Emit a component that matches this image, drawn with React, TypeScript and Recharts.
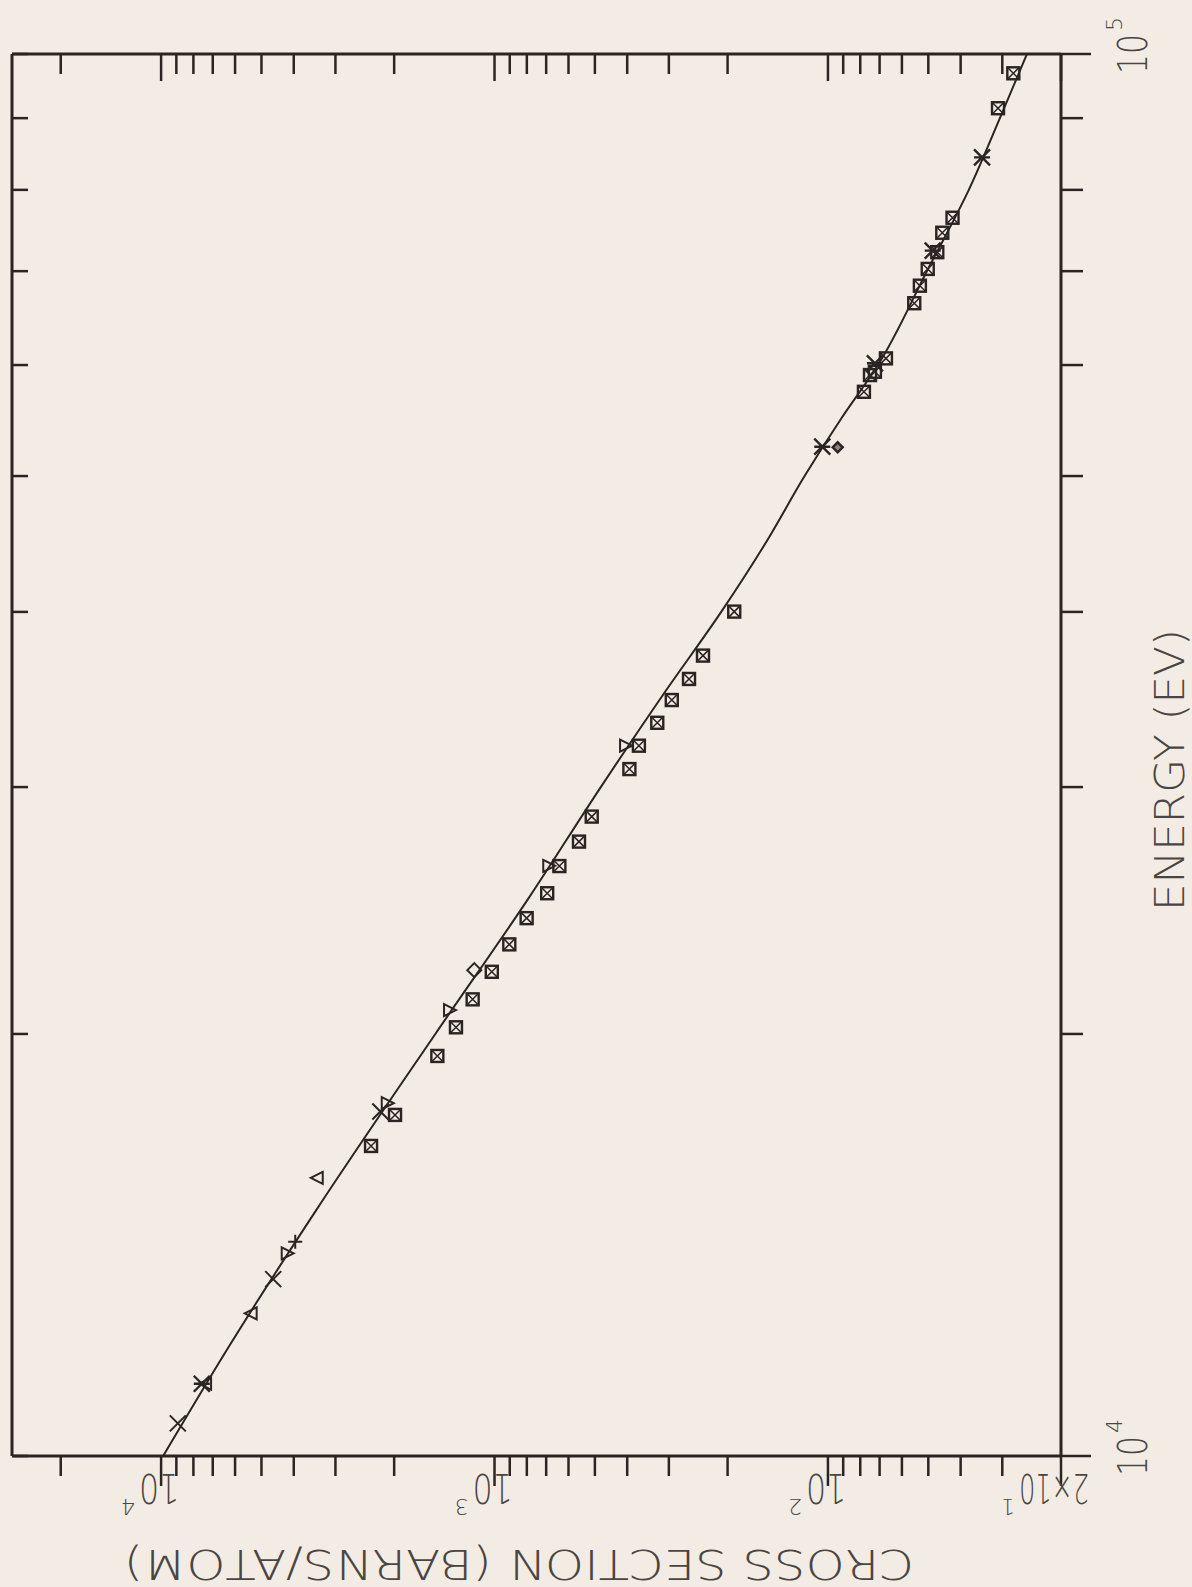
import React from 'react'
import { ScatterChart, Scatter, XAxis, YAxis } from 'recharts'

// energy axis (eV)
const energyTicks = [10000, 20000, 30000, 40000, 50000, 60000, 70000, 80000, 90000, 100000]
const energyLabelValues = [10000, 100000]
const energyLabelExp = ['4', '5']

// cross section axis (barns/atom)
const sigmaTicks = [
  20, 30, 40, 50, 60, 70, 80, 90, 100, 200, 300, 400, 500, 600, 700, 800, 900,
  1000, 2000, 3000, 4000, 5000, 6000, 7000, 8000, 9000, 10000, 20000,
]
const sigmaLabelValues = [10000, 1000, 100, 20]
const sigmaLabelBase = ['10', '10', '10', '2×10']
const sigmaLabelExp = ['4', '3', '2', '1']

// solid curve
const curveEnergy = [10000, 12000, 15000, 20000, 25000, 30000, 35000, 40000, 45000, 50000, 55000, 60000, 70000, 80000, 90000, 100000]
const curveSigma = [9860, 6220, 3410, 1505, 790, 480, 310, 209, 152, 117.5, 91, 70.8, 50.5, 37.8, 30.5, 25.3]

// crossed squares
const sqEnergy = [
  16640, 17510, 19290, 20220, 21170, 22150, 23170, 24190, 25200, 26350, 27430, 28580,
  30900, 32110, 33340, 34610, 35830, 37230, 40020, 57420, 59020, 59340, 60660, 66410,
  68350, 70260, 72220, 74560, 76420, 91480, 96880,
]
const sqSigma = [
  2346, 1988, 1484, 1305, 1163, 1019, 903, 801, 695, 639, 558, 511,
  394, 369, 325, 294, 261, 237, 191, 78.0, 74.8, 72.3, 67.0, 55.1,
  53.0, 50.2, 47.0, 45.4, 42.3, 30.9, 27.8,
]

// x crosses
const crossEnergy = [10550, 13370, 17610]
const crossSigma = [8910, 4610, 2200]

// asterisks
const starEnergy = [11260, 52470, 60170, 72400, 84380]
const starSigma = [7550, 104, 72.3, 48.5, 34.5]

// plus
const plusEnergy = [14220]
const plusSigma = [3960]

// triangles up
const triUpEnergy = [11260, 12640, 15790]
const triUpSigma = [7330, 5350, 3390]

// triangles down
const triDownEnergy = [13950, 17850, 20800, 26360, 32110]
const triDownSigma = [4200, 2105, 1369, 690, 406]

// diamond
const diamondEnergy = [22210]
const diamondSigma = [1150]

// small filled marker
const dotEnergy = [52420]
const dotSigma = [93.5]

const INK = '#2a2522'
const TEXT = '#4a4542'
const FONT = "'DejaVu Sans', 'Liberation Sans', sans-serif"

const pts = (e: number[], s: number[]) => e.map((v, i) => ({ e: v, s: s[i] }))

function SquareX({ cx, cy }: any) {
  const r = 6
  return (
    <g stroke={INK} fill="none">
      <rect x={cx - r} y={cy - r} width={2 * r} height={2 * r} strokeWidth={2.4} />
      <path d={`M${cx - r} ${cy - r}L${cx + r} ${cy + r}M${cx + r} ${cy - r}L${cx - r} ${cy + r}`} strokeWidth={1.5} />
    </g>
  )
}

function Cross({ cx, cy }: any) {
  const r = 8
  return <path d={`M${cx - r} ${cy - r}L${cx + r} ${cy + r}M${cx + r} ${cy - r}L${cx - r} ${cy + r}`} stroke={INK} strokeWidth={2} />
}

function Star({ cx, cy }: any) {
  const r = 8
  return (
    <path
      d={`M${cx - r} ${cy - r}L${cx + r} ${cy + r}M${cx + r} ${cy - r}L${cx - r} ${cy + r}M${cx} ${cy - r}L${cx} ${cy + r}`}
      stroke={INK}
      strokeWidth={2.4}
    />
  )
}

function Plus({ cx, cy }: any) {
  const r = 7
  return <path d={`M${cx - r} ${cy}L${cx + r} ${cy}M${cx} ${cy - r}L${cx} ${cy + r}`} stroke={INK} strokeWidth={2} />
}

function TriUp({ cx, cy }: any) {
  return <path d={`M${cx} ${cy - 7}L${cx + 6} ${cy + 5}L${cx - 6} ${cy + 5}Z`} stroke={INK} strokeWidth={2} fill="none" />
}

function TriDown({ cx, cy }: any) {
  return <path d={`M${cx} ${cy + 7}L${cx + 6} ${cy - 5}L${cx - 6} ${cy - 5}Z`} stroke={INK} strokeWidth={2} fill="none" />
}

function Diamond({ cx, cy }: any) {
  const r = 7
  return <path d={`M${cx} ${cy - r}L${cx + r} ${cy}L${cx} ${cy + r}L${cx - r} ${cy}Z`} stroke={INK} strokeWidth={2} fill="none" />
}

function Dot({ cx, cy }: any) {
  const r = 5
  return <path d={`M${cx} ${cy - r}L${cx + r} ${cy}L${cx} ${cy + r}L${cx - r} ${cy}Z`} stroke={INK} strokeWidth={2.5} fill="#8a8481" />
}

// energy axis, outward ticks + labels
function EnergyTick({ x, y, payload }: any) {
  const idx = energyLabelValues.indexOf(payload.value)
  const major = idx >= 0
  const len = major ? 30 : 22
  return (
    <g>
      <line x1={x} y1={y} x2={x} y2={y + len} stroke={INK} strokeWidth={2.5} />
      {major && (
        <g fill={TEXT} fontFamily={FONT} fontWeight={300}>
          <text x={x} y={1147} fontSize={40} textAnchor="middle" textLength={40} lengthAdjust="spacingAndGlyphs">10</text>
          <text x={x + 23} y={1122} fontSize={22} textAnchor="start">{energyLabelExp[idx]}</text>
        </g>
      )}
    </g>
  )
}

function EnergyTickInner({ x, y }: any) {
  return <line x1={x} y1={y} x2={x} y2={y + 16} stroke={INK} strokeWidth={2.5} />
}

function SigmaTick({ x, y, payload }: any) {
  const idx = sigmaLabelValues.indexOf(payload.value)
  const major = idx >= 0
  const len = major ? 30 : 20
  const base = major ? sigmaLabelBase[idx] : ''
  const wide = base.length > 2
  return (
    <g>
      <line x1={x} y1={y} x2={x - len} y2={y} stroke={INK} strokeWidth={2.5} />
      {major && (
        <g transform={`translate(${x - 18}, ${y}) rotate(-90)`} fill={TEXT} fontFamily={FONT} fontWeight={300}>
          <text
            x={wide ? 42 : 2}
            y={0}
            fontSize={40}
            textAnchor={wide ? 'end' : 'middle'}
            textLength={wide ? 70 : 40}
            lengthAdjust="spacingAndGlyphs"
          >
            {base}
          </text>
          <text x={wide ? 46 : 26} y={-25} fontSize={22} textAnchor="start">{sigmaLabelExp[idx]}</text>
        </g>
      )}
    </g>
  )
}

function SigmaTickInner({ x, y, payload }: any) {
  const major = sigmaLabelValues.indexOf(payload.value) >= 0
  const len = major ? 27 : 20
  return <line x1={x} y1={y} x2={x - len} y2={y} stroke={INK} strokeWidth={2.5} />
}

const W = 1587
const H = 1192

export default function App() {
  const axisLine = { stroke: INK, strokeWidth: 3 }
  return (
    <div style={{ position: 'absolute', left: 0, top: 0, width: 1192, height: 1587, background: '#f2ece5', overflow: 'hidden' }}>
      <div
        style={{
          position: 'absolute',
          left: 0,
          top: 0,
          width: W,
          height: H,
          transform: `translate(0px, ${W}px) rotate(-90deg)`,
          transformOrigin: '0 0',
        }}
      >
        <ScatterChart width={W} height={H} margin={{ top: 12, right: 54, bottom: 130, left: 130 }}>
          <XAxis
            xAxisId="b"
            dataKey="e"
            type="number"
            scale="log"
            domain={[10000, 100000]}
            allowDataOverflow
            ticks={energyTicks}
            interval={0}
            height={1}
            tickSize={0}
            tickMargin={0}
            tickLine={false}
            axisLine={axisLine}
            tick={EnergyTick}
          />
          <XAxis
            xAxisId="t"
            orientation="top"
            mirror
            dataKey="e"
            type="number"
            scale="log"
            domain={[10000, 100000]}
            allowDataOverflow
            ticks={energyTicks}
            interval={0}
            height={1}
            tickSize={0}
            tickMargin={0}
            tickLine={false}
            axisLine={axisLine}
            tick={EnergyTickInner}
          />
          <YAxis
            yAxisId="l"
            dataKey="s"
            type="number"
            scale="log"
            domain={[20, 28000]}
            allowDataOverflow
            ticks={sigmaTicks}
            interval={0}
            width={1}
            tickSize={0}
            tickMargin={0}
            tickLine={false}
            axisLine={axisLine}
            tick={SigmaTick}
          />
          <YAxis
            yAxisId="r"
            orientation="right"
            mirror
            dataKey="s"
            type="number"
            scale="log"
            domain={[20, 28000]}
            allowDataOverflow
            ticks={sigmaTicks}
            interval={0}
            width={1}
            tickSize={0}
            tickMargin={0}
            tickLine={false}
            axisLine={axisLine}
            tick={SigmaTickInner}
          />
          <Scatter
            xAxisId="b"
            yAxisId="l"
            data={pts(curveEnergy, curveSigma)}
            line={{ stroke: INK, strokeWidth: 2 }}
            lineJointType="monotoneX"
            shape={() => <g />}
            isAnimationActive={false}
          />
          <Scatter xAxisId="b" yAxisId="l" data={pts(sqEnergy, sqSigma)} shape={SquareX} isAnimationActive={false} />
          <Scatter xAxisId="b" yAxisId="l" data={pts(crossEnergy, crossSigma)} shape={Cross} isAnimationActive={false} />
          <Scatter xAxisId="b" yAxisId="l" data={pts(starEnergy, starSigma)} shape={Star} isAnimationActive={false} />
          <Scatter xAxisId="b" yAxisId="l" data={pts(plusEnergy, plusSigma)} shape={Plus} isAnimationActive={false} />
          <Scatter xAxisId="b" yAxisId="l" data={pts(triUpEnergy, triUpSigma)} shape={TriUp} isAnimationActive={false} />
          <Scatter xAxisId="b" yAxisId="l" data={pts(triDownEnergy, triDownSigma)} shape={TriDown} isAnimationActive={false} />
          <Scatter xAxisId="b" yAxisId="l" data={pts(diamondEnergy, diamondSigma)} shape={Diamond} isAnimationActive={false} />
          <Scatter xAxisId="b" yAxisId="l" data={pts(dotEnergy, dotSigma)} shape={Dot} isAnimationActive={false} />
        </ScatterChart>
        <svg width={W} height={H} style={{ position: 'absolute', left: 0, top: 0, pointerEvents: 'none' }}>
          <g fill={TEXT} fontFamily={FONT} fontSize={40} fontWeight={300}>
            <text x={817} y={1184} textAnchor="middle" textLength={282} lengthAdjust="spacingAndGlyphs">ENERGY (EV)</text>
            <text x={37} y={519} textAnchor="middle" textLength={790} lengthAdjust="spacingAndGlyphs" transform="rotate(-90 37 519)">
              CROSS SECTION (BARNS/ATOM)
            </text>
          </g>
        </svg>
      </div>
    </div>
  )
}
